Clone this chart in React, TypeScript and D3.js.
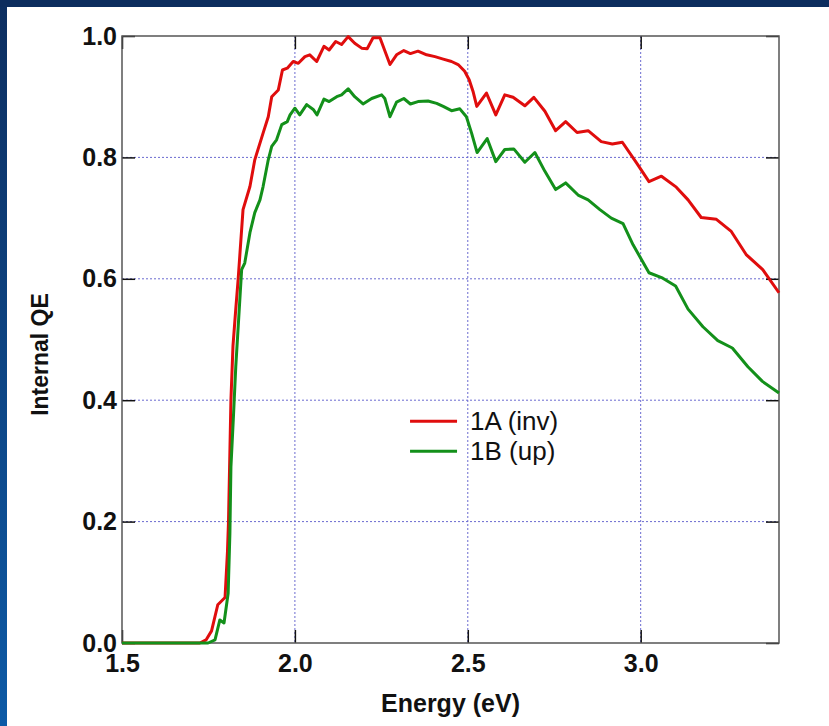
import React, { useRef, useEffect } from 'react';
import * as d3 from 'd3';

// --- Data ---
const energyA = [
  1.5, 1.581, 1.725, 1.743, 1.759, 1.777, 1.798, 1.805, 1.808, 1.815, 1.821, 1.829, 1.836,
  1.85, 1.87, 1.884, 1.908, 1.923, 1.933, 1.952, 1.964, 1.978, 1.995, 2.01, 2.029, 2.043,
  2.063, 2.084, 2.099, 2.118, 2.135, 2.154, 2.173, 2.193, 2.209, 2.226, 2.246, 2.275, 2.294,
  2.315, 2.334, 2.356, 2.381, 2.405, 2.429, 2.453, 2.472, 2.491, 2.504, 2.515, 2.526, 2.554,
  2.581, 2.607, 2.631, 2.665, 2.691, 2.723, 2.754, 2.783, 2.816, 2.848, 2.886, 2.918, 2.947,
  2.988, 3.024, 3.06, 3.103, 3.137, 3.175, 3.219, 3.262, 3.305, 3.353, 3.4,
];
const qeA = [
  0, 0, 0, 0.005, 0.02, 0.063, 0.075, 0.15, 0.2, 0.4, 0.49, 0.55, 0.6,
  0.714, 0.752, 0.796, 0.84, 0.867, 0.9, 0.911, 0.944, 0.947, 0.958, 0.955, 0.966, 0.969,
  0.958, 0.983, 0.977, 0.991, 0.986, 0.999, 0.988, 0.98, 0.979, 0.997, 0.997, 0.953, 0.969,
  0.976, 0.971, 0.975, 0.969, 0.966, 0.962, 0.958, 0.953, 0.942, 0.928, 0.909, 0.884, 0.906,
  0.87, 0.903, 0.899, 0.885, 0.899, 0.876, 0.844, 0.859, 0.841, 0.844, 0.826, 0.822, 0.825,
  0.791, 0.76, 0.769, 0.751, 0.73, 0.701, 0.698, 0.678, 0.64, 0.615, 0.577,
];

const energyB = [
  1.5, 1.749, 1.769, 1.783, 1.795, 1.807, 1.812, 1.815, 1.822, 1.829, 1.839, 1.846, 1.855,
  1.87, 1.884, 1.899, 1.908, 1.923, 1.933, 1.947, 1.962, 1.978, 1.986, 2.0, 2.014, 2.034,
  2.053, 2.064, 2.084, 2.099, 2.121, 2.135, 2.154, 2.173, 2.197, 2.222, 2.251, 2.26, 2.275,
  2.294, 2.315, 2.334, 2.356, 2.385, 2.41, 2.429, 2.453, 2.477, 2.496, 2.511, 2.527, 2.556,
  2.581, 2.607, 2.633, 2.665, 2.694, 2.723, 2.754, 2.783, 2.819, 2.848, 2.882, 2.915, 2.949,
  2.978, 3.024, 3.064, 3.101, 3.137, 3.18, 3.223, 3.265, 3.31, 3.352, 3.4,
];
const qeB = [
  0, 0, 0.005, 0.038, 0.033, 0.082, 0.18, 0.29, 0.37, 0.455, 0.549, 0.615, 0.626,
  0.676, 0.709, 0.73, 0.752, 0.796, 0.818, 0.829, 0.854, 0.859, 0.87, 0.881, 0.87, 0.887,
  0.879, 0.87, 0.896, 0.892, 0.9, 0.903, 0.913, 0.9, 0.888, 0.897, 0.903, 0.897, 0.867,
  0.891, 0.897, 0.888, 0.892, 0.893, 0.889, 0.884, 0.877, 0.88, 0.867, 0.84, 0.808, 0.831,
  0.793, 0.813, 0.814, 0.792, 0.808, 0.777, 0.747, 0.758, 0.738, 0.73, 0.714, 0.7, 0.691,
  0.656, 0.61, 0.601, 0.588, 0.55, 0.521, 0.498, 0.486, 0.455, 0.431, 0.412,
];

const xTicks = [1.5, 2.0, 2.5, 3.0];
const yTicks = [0, 0.2, 0.4, 0.6, 0.8, 1.0];
const seriesNames = ['1A (inv)', '1B (up)'];
const seriesColors = ['#e00d0d', '#13901a'];

const QEChart = ({ width = 829, height = 726 }) => {
  const svgRef = useRef<SVGSVGElement>(null);

  useEffect(() => {
    const margin = { top: 36, right: 50, bottom: 83, left: 122 };
    const innerWidth = width - margin.left - margin.right;
    const innerHeight = height - margin.top - margin.bottom;

    const svg = d3.select(svgRef.current)
      .attr('width', width)
      .attr('height', height)
      .html('');

    // --- Background: navy bar on top, blue stripe on the left ---
    const grad = svg.append('defs').append('linearGradient')
      .attr('id', 'sideGrad')
      .attr('x1', 0).attr('y1', 0).attr('x2', 0).attr('y2', 1);
    grad.append('stop').attr('offset', '0%').attr('stop-color', '#0c2e60');
    grad.append('stop').attr('offset', '100%').attr('stop-color', '#0c5aa6');

    svg.append('rect').attr('width', width).attr('height', height).attr('fill', '#ffffff');
    svg.append('rect').attr('width', 7).attr('height', height).attr('fill', 'url(#sideGrad)');
    svg.append('rect').attr('width', width).attr('height', 7).attr('fill', '#0c2d5e');

    const g = svg.append('g').attr('transform', `translate(${margin.left},${margin.top})`);

    // --- Scales ---
    const xScale = d3.scaleLinear().domain([1.5, 3.4]).range([0, innerWidth]);
    const yScale = d3.scaleLinear().domain([0, 1]).range([innerHeight, 0]);

    // --- Grid (dotted) ---
    g.append('g')
      .selectAll('line')
      .data(xTicks.filter(d => d > 1.5))
      .join('line')
      .attr('x1', d => xScale(d)).attr('x2', d => xScale(d))
      .attr('y1', 0).attr('y2', innerHeight)
      .attr('stroke', '#6b6bd0')
      .attr('stroke-width', 1)
      .attr('stroke-dasharray', '2,2');

    g.append('g')
      .selectAll('line')
      .data(yTicks.filter(d => d > 0 && d < 1))
      .join('line')
      .attr('x1', 0).attr('x2', innerWidth)
      .attr('y1', d => yScale(d)).attr('y2', d => yScale(d))
      .attr('stroke', '#6b6bd0')
      .attr('stroke-width', 1)
      .attr('stroke-dasharray', '2,2');

    // --- Axes (inward ticks, mirrored on all four sides) ---
    const tickStyle = (sel: any) => {
      sel.select('.domain').remove();
      sel.selectAll('line').attr('stroke', '#111').attr('stroke-width', 1.5);
    };

    g.append('g')
      .attr('transform', `translate(0,${innerHeight})`)
      .call(d3.axisBottom(xScale).tickValues(xTicks).tickSizeInner(-13).tickSizeOuter(0).tickFormat(d3.format('.1f')))
      .call(tickStyle)
      .call(s => s.selectAll('text')
        .attr('fill', '#111')
        .style('font', 'bold 25px "Liberation Sans", Arial, sans-serif')
        .attr('dy', '0.71em')
        .attr('y', 11));

    g.append('g')
      .call(d3.axisTop(xScale).tickValues(xTicks).tickSizeInner(-13).tickSizeOuter(0).tickFormat(() => ''))
      .call(tickStyle);

    g.append('g')
      .call(d3.axisLeft(yScale).tickValues(yTicks).tickSizeInner(-13).tickSizeOuter(0).tickFormat(d3.format('.1f')))
      .call(tickStyle)
      .call(s => s.selectAll('text')
        .attr('fill', '#111')
        .attr('x', -5)
        .style('font', 'bold 25px "Liberation Sans", Arial, sans-serif'));

    g.append('g')
      .attr('transform', `translate(${innerWidth},0)`)
      .call(d3.axisRight(yScale).tickValues(yTicks).tickSizeInner(-13).tickSizeOuter(0).tickFormat(() => ''))
      .call(tickStyle);

    // Frame
    g.append('rect')
      .attr('width', innerWidth)
      .attr('height', innerHeight)
      .attr('fill', 'none')
      .attr('stroke', '#555')
      .attr('stroke-width', 1.5);

    // Axis labels
    g.append('text')
      .attr('x', -innerHeight / 2 - 15)
      .attr('y', -74)
      .attr('transform', 'rotate(-90)')
      .attr('text-anchor', 'middle')
      .style('font', 'bold 23px "Liberation Sans", Arial, sans-serif')
      .style('fill', '#111')
      .text('Internal QE');

    g.append('text')
      .attr('x', xScale(2.45))
      .attr('y', innerHeight + 69)
      .attr('text-anchor', 'middle')
      .style('font', 'bold 25px "Liberation Sans", Arial, sans-serif')
      .style('fill', '#111')
      .text('Energy (eV)');

    // --- Lines ---
    const lineGenerator = d3.line<[number, number]>()
      .x(d => xScale(d[0]))
      .y(d => yScale(d[1]));

    const seriesData = [
      energyA.map((e, i) => [e, qeA[i]] as [number, number]),
      energyB.map((e, i) => [e, qeB[i]] as [number, number]),
    ];

    seriesData.forEach((pts, i) => {
      g.append('path')
        .datum(pts)
        .attr('fill', 'none')
        .attr('stroke', seriesColors[i])
        .attr('stroke-width', 3)
        .attr('stroke-linejoin', 'round')
        .attr('d', lineGenerator);
    });

    // --- Legend ---
    const legend = g.append('g').attr('transform', `translate(${xScale(2.333)},${yScale(0.4)})`);
    seriesNames.forEach((name, i) => {
      const row = legend.append('g').attr('transform', `translate(0,${21 + i * 30})`);
      row.append('line')
        .attr('x1', 0).attr('x2', 47)
        .attr('stroke', seriesColors[i])
        .attr('stroke-width', 3);
      row.append('text')
        .attr('x', 60)
        .attr('dy', '0.35em')
        .style('font', '26px "Liberation Sans", Arial, sans-serif')
        .style('fill', '#111')
        .text(name);
    });
  }, [width, height]);

  return <svg ref={svgRef} style={{ display: 'block' }}></svg>;
};

export default function App() {
  return (
    <div style={{ position: 'fixed', left: 0, top: 0 }}>
      <QEChart />
    </div>
  );
}
